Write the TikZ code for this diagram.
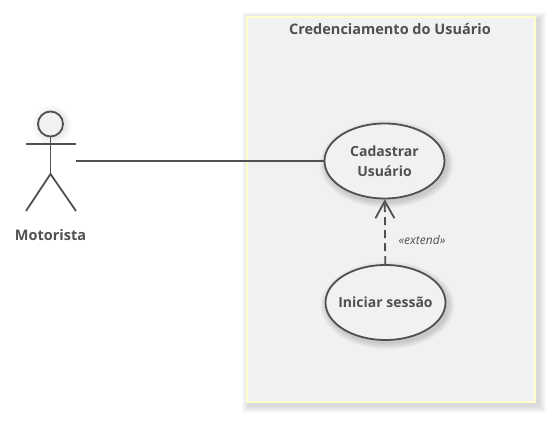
\documentclass[tikz,border=0pt]{standalone}
\usepackage{fontspec}
\setmainfont{Open Sans}
\usetikzlibrary{arrows.meta,shapes.geometric}
\definecolor{umlink}{HTML}{505050}
\definecolor{umlfill}{HTML}{F1F1F1}
\definecolor{umledge}{HTML}{FFFFCC}

\begin{document}
\begin{tikzpicture}[
  x=1pt,
  y=-1pt,
  line cap=butt,
  font=\bfseries\fontsize{14.5pt}{20pt}\selectfont
]

  \useasboundingbox (0,0) rectangle (555,422);

  % styles for the use cases and their links
  \tikzset{
    usecase/.style={ellipse, draw=umlink, fill=umlfill, line width=1.8pt, text=umlink,
      font=\bfseries\fontsize{14pt}{20pt}\selectfont,
      minimum width=120pt, minimum height=75pt, inner xsep=-12pt, inner ysep=0pt, align=center},
    umlline/.style={draw=umlink, line width=1.8pt},
    caption/.style={text=umlink, inner sep=0pt}
  }

  % helper macros for the soft shadows
  \def\softEllipse#1#2{%
    \foreach \g in {1,2,...,7} {
      \fill[black, opacity=.022] (#1+2,#2+3) ellipse ({60+\g} and {37+\g});
    }
  }

  \def\softBox#1#2#3#4{%
    \foreach \g in {1,2,...,8} {
      \fill[black, opacity=.018] (#1-\g+3,#2-\g+3) rectangle (#3+\g+3,#4+\g+3);
    }
  }

  % system boundary
  \softBox{246.5}{17}{535}{402}
  \fill[umlfill, draw=umledge, line width=2pt] (246.5,17) rectangle (535,402);
  \node[caption] (title) at (390,29) {Credenciamento do Usuário};

  % actor
  \fill[black, opacity=.03] (52,125) circle (14);
  \fill[black, opacity=.03] (52,125) circle (16);
  \fill[black, opacity=.03] (52,125) circle (19);
  \draw[umlline, fill=umlfill] (50.5,124) circle (12.5);
  \draw[umlline] (50.5,136.5) -- (50.5,174);
  \draw[umlline] (26,144) -- (76,144);
  \draw[umlline] (26,211) -- (50.5,174) -- (76,211);
  \node[caption] (motorista) at (50.5,235) {Motorista};
  \coordinate (hand) at (76,161);

  % use cases
  \softEllipse{384.5}{161}
  \softEllipse{385.5}{302.5}
  \node[usecase] (cadastrar) at (384.5,161) {Cadastrar\\Usuário};
  \node[usecase] (iniciar) at (385.5,302.5) {Iniciar sessão};

  % links
  \draw[umlline] (hand) -- (cadastrar);
  \draw[umlline, dash pattern=on 8pt off 5pt, -{Straight Barb[length=17pt, width=19pt, line width=1.8pt]}]
    (iniciar) -- (cadastrar);
  \node[text=umlink, inner sep=0pt, font=\itshape\mdseries\fontsize{12pt}{13pt}\selectfont] (extend) at (422,240) {«extend»};

\end{tikzpicture}
\end{document}
